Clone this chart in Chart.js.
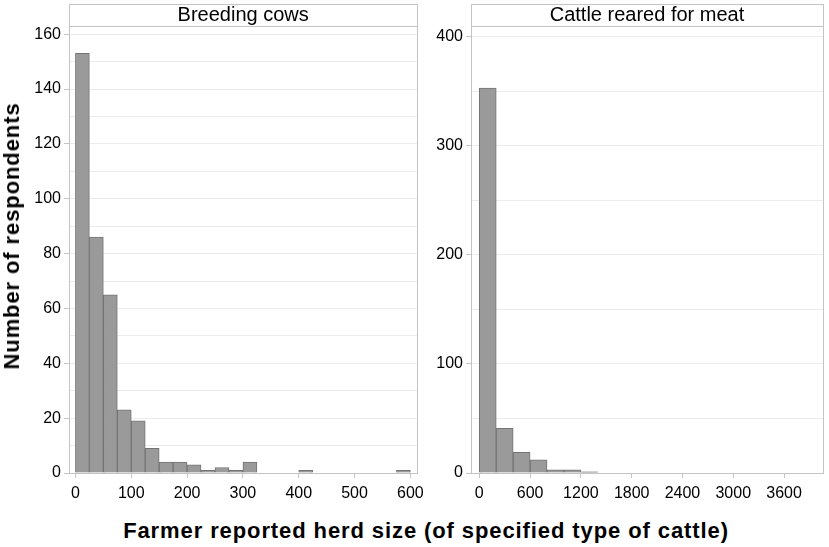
<!DOCTYPE html>
<html>
<head>
<meta charset="utf-8">
<script src="https://cdn.jsdelivr.net/npm/chart.js@4.4.1/dist/chart.umd.min.js"></script>
<style>
    html, body { margin: 0; padding: 0; background: #fff; }
    body { width: 829px; height: 547px; position: relative; overflow: hidden; font-family: "Liberation Sans", Arial, sans-serif; }
    .panel { position: absolute; top: 0; height: 500px; }
    #leftWrap { left: 19px; width: 411px; }
    #rightWrap { left: 430px; width: 399px; }
    .y-title {
        position: absolute; left: 12px; top: 236px;
        transform: translate(-50%, -50%) rotate(-90deg);
        white-space: nowrap; font-weight: bold; font-size: 22px; line-height: 22px;
        letter-spacing: 0.9px; color: #000;
    }
    .x-title {
        position: absolute; left: 0; width: 852px; top: 520px;
        text-align: center; white-space: nowrap; font-weight: bold; font-size: 22px; line-height: 22px;
        letter-spacing: 0.9px; color: #000;
    }
</style>
</head>
<body>
<div class="panel" id="leftWrap"><canvas id="leftChart"></canvas></div>
<div class="panel" id="rightWrap"><canvas id="rightChart"></canvas></div>
<div class="y-title">Number of respondents</div>
<div class="x-title">Farmer reported herd size (of specified type of cattle)</div>

<script>
// ===== Data =====
const leftTitle = 'Breeding cows';
const leftBinWidth = 25;
const leftBinStarts = [0, 25, 50, 75, 100, 125, 150, 175, 200, 225, 250, 275,
                       300, 325, 350, 375, 400, 425, 450, 475, 500, 525, 550, 575];
const leftCounts    = [153, 86, 65, 23, 19, 9, 4, 4, 3, 1, 2, 1,
                       4, 0, 0, 0, 1, 0, 0, 0, 0, 0, 0, 1];
const leftXTicks = [0, 100, 200, 300, 400, 500, 600];
const leftYTicks = [0, 20, 40, 60, 80, 100, 120, 140, 160];
const leftYGridStep = 10;

const rightTitle = 'Cattle reared for meat';
const rightBinWidth = 200;
const rightBinStarts = [0, 200, 400, 600, 800, 1000, 1200, 1400, 1600, 1800,
                        2000, 2200, 2400, 2600, 2800, 3000, 3200, 3400, 3600, 3800];
const rightCounts    = [353, 41, 19, 12, 3, 3, 1, 0, 0, 0,
                        0, 0, 0, 0, 0, 0, 0, 0, 0, 0];
const rightXTicks = [0, 600, 1200, 1800, 2400, 3000, 3600];
const rightYTicks = [0, 100, 200, 300, 400];
const rightYGridStep = 50;

// ===== Style =====
const FONT = '"Liberation Sans", Arial, sans-serif';
const FRAME = '#c4c4c4';
const GRID = '#ececec';

// draws the panel box and the header strip around the title
const panelFrame = {
    id: 'panelFrame',
    afterDraw(chart) {
        const { ctx, chartArea: a } = chart;
        const t = chart.titleBlock;
        ctx.save();
        ctx.strokeStyle = FRAME;
        ctx.lineWidth = 1;
        ctx.strokeRect(Math.round(a.left) + 0.5, Math.round(a.top) + 0.5,
                       Math.round(a.right - a.left), Math.round(a.bottom - a.top));
        if (t) {
            ctx.strokeRect(Math.round(a.left) + 0.5, Math.round(t.top) + 0.5,
                           Math.round(a.right - a.left), Math.round(a.top - t.top));
        }
        ctx.restore();
    }
};

function makePanel(id, o) {
    const data = o.starts.map((s, i) => ({ x: s + o.binWidth / 2, y: o.counts[i] }));
    return new Chart(document.getElementById(id), {
        type: 'bar',
        data: {
            datasets: [{
                data,
                backgroundColor: '#9a9a9a',
                borderColor: '#747474',
                borderWidth: 1,
                barPercentage: 1,
                categoryPercentage: 1
            }]
        },
        options: {
            responsive: true,
            maintainAspectRatio: false,
            animation: false,
            events: [],
            layout: { padding: { top: 4, right: o.padRight, bottom: 0, left: 0 } },
            plugins: {
                legend: { display: false },
                tooltip: { enabled: false },
                title: {
                    display: true, text: o.title, fullSize: false,
                    color: '#000', font: { family: FONT, size: 20, weight: 'normal', lineHeight: 1 },
                    padding: { top: 1, bottom: 1 }
                }
            },
            scales: {
                x: {
                    type: 'linear', min: o.xMin, max: o.xMax, offset: false,
                    afterBuildTicks: s => { s.ticks = o.xTicks.map(v => ({ value: v })); },
                    afterFit: s => { s.height = 27; },
                    grid: { drawOnChartArea: false, offset: false, tickLength: 5, tickColor: FRAME },
                    border: { color: FRAME },
                    ticks: { color: '#000', padding: 6, maxRotation: 0, autoSkip: false,
                             font: { family: FONT, size: 16 },
                             callback: v => String(v) }
                },
                y: {
                    min: 0, max: o.yMax,
                    ticks: {
                        color: '#000', padding: 3,
                        font: { family: FONT, size: 16 },
                        callback: v => o.yTicks.includes(v) ? String(v) : ''
                    },
                    // gridlines every yStep, labels only at the listed ticks
                    afterBuildTicks: s => {
                        const t = [];
                        for (let v = 0; v <= o.yMax; v += o.yStep) t.push({ value: v });
                        s.ticks = t;
                    },
                    afterFit: s => { s.width = o.yWidth; },
                    grid: {
                        color: GRID, tickLength: 5,
                        tickColor: c => (c.tick && o.yTicks.includes(c.tick.value)) ? FRAME : 'rgba(0,0,0,0)'
                    },
                    border: { color: FRAME }
                }
            }
        },
        plugins: [panelFrame]
    });
}

makePanel('leftChart', {
    title: leftTitle, starts: leftBinStarts, counts: leftCounts, binWidth: leftBinWidth,
    xTicks: leftXTicks, xMin: -11.5, xMax: 612.5,
    yTicks: leftYTicks, yStep: leftYGridStep, yMax: 163,
    yWidth: 50, padRight: 8
});

makePanel('rightChart', {
    title: rightTitle, starts: rightBinStarts, counts: rightCounts, binWidth: rightBinWidth,
    xTicks: rightXTicks, xMin: -98, xMax: 4060,
    yTicks: rightYTicks, yStep: rightYGridStep, yMax: 410,
    yWidth: 41, padRight: 6
});
</script>
</body>
</html>
